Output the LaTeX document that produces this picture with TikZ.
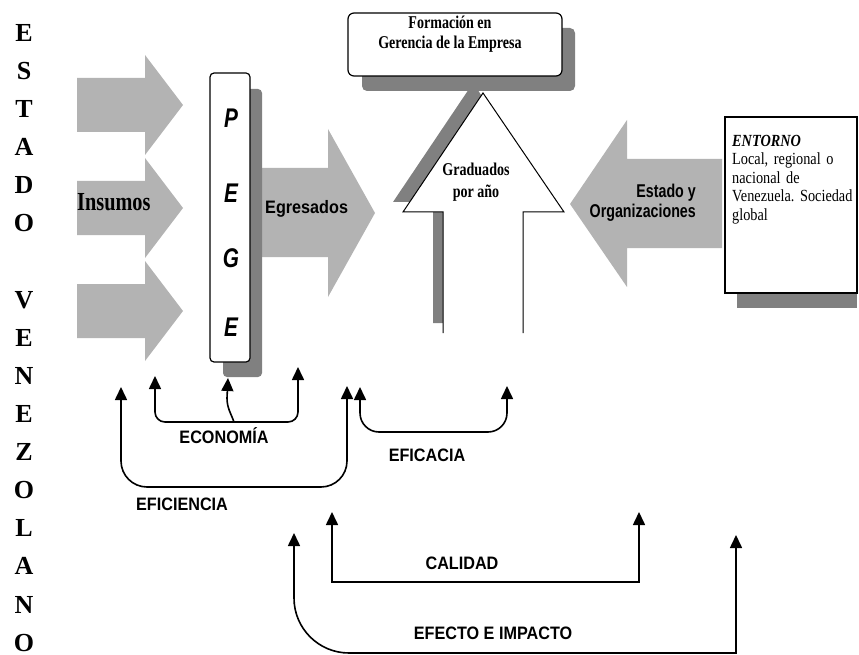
\documentclass[tikz,border=0pt]{standalone}
\usepackage{fontspec}
\setmainfont{Liberation Serif}
\setsansfont{Liberation Sans}
\newfontfamily\serifestrecha{Liberation Serif}[FakeStretch=0.78]
\newfontfamily\serifentorno{Liberation Serif}[FakeStretch=0.84]
\newfontfamily\sansestrecha{Liberation Sans}[FakeStretch=0.9]
\newfontfamily\sansangosta{Liberation Sans}[FakeStretch=0.77]
\usetikzlibrary{arrows.meta}
\definecolor{flecha}{HTML}{B3B3B3}
\definecolor{sombra}{HTML}{808080}
\frenchspacing

\begin{document}
\begin{tikzpicture}[x=1pt, y=-1pt,
    letra/.style={font=\bfseries\fontsize{26}{26}\selectfont, inner sep=0},
    pegeletra/.style={font=\sansangosta\bfseries\itshape\fontsize{27}{27}\selectfont, inner sep=0},
    serifnegra/.style={font=\serifestrecha\bfseries\fontsize{18}{19.5}\selectfont, inner sep=0, align=center},
    sansnegra/.style={font=\sansestrecha\bfseries\fontsize{18}{18}\selectfont, inner sep=0},
    caja/.style={draw, fill=white, line width=1.2pt, inner sep=0},
    medida/.style={line width=1.6pt, -{Triangle[length=13pt, width=12pt]}},
    medida2/.style={line width=1.6pt, {Triangle[length=13pt, width=12pt]}-{Triangle[length=13pt, width=12pt]}}]
    \useasboundingbox (0,0) rectangle (859,655);

    \foreach \ch [count=\i from 0] in {E,S,T,A,D,O,{},V,E,N,E,Z,O,L,A,N,O} {
        \node[letra] (l\i) at (24, {33+38.1*\i}) {\ch};
    }

    \foreach \c in {105,208,311} {
        \fill[flecha] (77,{\c-27}) -- (145,{\c-27}) -- (145,{\c-50}) -- (183,\c) -- (145,{\c+50}) -- (145,{\c+27}) -- (77,{\c+27}) -- cycle;
    }
    \node[font=\serifestrecha\bfseries\fontsize{26}{26}\selectfont, inner sep=0, anchor=west] (insumos) at (77,202) {Insumos};

    \fill[flecha] (250,168) -- (328,168) -- (328,129) -- (375,213) -- (328,297) -- (328,257) -- (250,257) -- cycle;
    \node[sansnegra, anchor=west] (egresados) at (265,209) {Egresados};

    \fill[sombra, rounded corners=4] (223,89) rectangle (262,377);
    \node[caja, rounded corners=4, minimum width=40, minimum height=289] (pege) at (230,217.5) {};
    \foreach \l/\y [count=\i] in {P/118,E/193,G/258,E/327} {
        \node[pegeletra] (p\i) at (231,\y) {\l};
    }

    \fill[sombra] (433,323) -- (433,202) -- (393,202) -- (473,83) -- (554,202) -- (513,202) -- (513,323) -- cycle;
    \fill[sombra, rounded corners=5] (362,28) rectangle (575,91);
    \node[caja, rounded corners=6, minimum width=214, minimum height=63] (formacion) at (455,44.5) {};
    \node[serifnegra] (formtxt) at (450,34) {Formación en\\Gerencia de la Empresa};

    \fill[white] (443,333) -- (443,212) -- (403,212) -- (483,93) -- (564,212) -- (523,212) -- (523,333) -- cycle;
    \draw[line width=1pt] (443,333) -- (443,212) -- (403,212) -- (483,93) -- (564,212) -- (523,212) -- (523,333);
    \node[serifnegra, font=\serifestrecha\bfseries\fontsize{18}{22}\selectfont] (graduados) at (476,182) {Graduados\\por año};

    \fill[flecha] (722,159) -- (627,159) -- (627,120) -- (570,204) -- (627,287) -- (627,248) -- (722,248) -- cycle;
    \node[font=\sansangosta\bfseries\fontsize{18.5}{20.5}\selectfont, inner sep=0, align=right, anchor=east] (estado) at (696,203) {Estado y\\Organizaciones};

    \fill[sombra] (737,130) rectangle (857,308);
    \node[caja, minimum width=132, minimum height=176] (entorno) at (791,205) {};
    \node[font=\serifentorno\fontsize{17}{18.5}\selectfont, inner sep=0, align=left, anchor=north west, text width=127] (entornotxt) at (732,135)
        {\textbf{\textit{ENTORNO}}\\Local, regional o\\nacional de\\Venezuela. Sociedad\\global};

    \coordinate (eco-l) at (155,376);
    \coordinate (eco-m) at (228,378);
    \coordinate (eco-r) at (298,367);
    \coordinate (eco-b) at (298,422);
    \coordinate (eco-c) at (234,422);
    \draw[medida2, rounded corners=10] (eco-l) |- (eco-b) -- (eco-r);
    \draw[medida] (eco-c) to[out=110, in=-90] (227,398) -- (eco-m);
    \node[sansnegra] (economia) at (224,436) {ECONOMÍA};

    \coordinate (efi-l) at (121,387);
    \coordinate (efi-r) at (347,386);
    \coordinate (efi-b) at (347,487);
    \draw[medida2, rounded corners=26] (efi-l) |- (efi-b) -- (efi-r);
    \node[sansnegra] (eficiencia) at (182,504) {EFICIENCIA};

    \coordinate (efc-l) at (360,387);
    \coordinate (efc-r) at (507,386);
    \coordinate (efc-b) at (507,432);
    \draw[medida2, rounded corners=19] (efc-l) |- (efc-b) -- (efc-r);
    \node[sansnegra] (eficacia) at (427,455) {EFICACIA};

    \coordinate (cal-l) at (332,512);
    \coordinate (cal-r) at (639,512);
    \coordinate (cal-b) at (639,582);
    \draw[medida2] (cal-l) |- (cal-b) -- (cal-r);
    \node[sansnegra] (calidad) at (462,563) {CALIDAD};

    \coordinate (imp-l) at (294,533);
    \coordinate (imp-r) at (736,535);
    \coordinate (imp-m) at (520,653);
    \draw[medida, {Triangle[length=13pt, width=12pt]}-, rounded corners=55] (imp-l) |- (imp-m);
    \draw[medida] (imp-m) -| (imp-r);
    \node[sansnegra] (impacto) at (493,633) {EFECTO E IMPACTO};
\end{tikzpicture}
\end{document}
